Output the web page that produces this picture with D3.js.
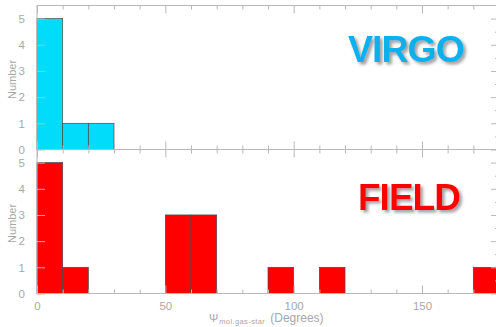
<!DOCTYPE html>
<html>
<head>
<meta charset="utf-8">
<script src="https://cdn.jsdelivr.net/npm/d3@7"></script>
<style>
  html, body { margin: 0; padding: 0; background: #fff; overflow: hidden; }
  svg { display: block; }
  .tick text { fill: #a8a8a8; font-family: "Liberation Sans", Arial, sans-serif; font-size: 11.5px; }
  .tick line { stroke: #b8b8b8; }
</style>
</head>
<body>
<svg id="chart" width="496" height="327"></svg>
<script>
// Histogram bins of misalignment angle (degrees), 10-degree wide
const binStarts = [0, 10, 20, 30, 40, 50, 60, 70, 80, 90, 100, 110, 120, 130, 140, 150, 160, 170];
const virgoCounts = [5, 1, 1, 0, 0, 0, 0, 0, 0, 0, 0, 0, 0, 0, 0, 0, 0, 0];
const fieldCounts = [5, 1, 0, 0, 0, 3, 3, 0, 0, 1, 0, 1, 0, 0, 0, 0, 0, 1];
const xTickLabels = [0, 50, 100, 150];
const yTickLabels = [0, 1, 2, 3, 4, 5];
const binWidth = 10;

const svg = d3.select("#chart");
const x = d3.scaleLinear().domain([0, 180]).range([37, 499]);

const panels = [
  { name: "VIRGO", counts: virgoCounts, fill: "#00dcfa", label: "#0fb0ec",
    y: d3.scaleLinear().domain([0, 5.5]).range([149.5, 5.5]), tx: 348, ty: 62, fs: 37.5 },
  { name: "FIELD", counts: fieldCounts, fill: "#ff0000", label: "#ff0000",
    y: d3.scaleLinear().domain([0, 5.5]).range([293.5, 149.5]), tx: 358, ty: 210, fs: 37 }
];

const defs = svg.append("defs");
defs.append("filter").attr("id", "shadow").attr("x", "-10%").attr("y", "-10%")
  .attr("width", "130%").attr("height", "140%")
  .append("feDropShadow").attr("dx", 2.5).attr("dy", 2.5).attr("stdDeviation", 1.6)
  .attr("flood-color", "#777").attr("flood-opacity", 0.7);

const gray = "#b8b8b8";

panels.forEach((p, i) => {
  const g = svg.append("g");
  const [y0, y1] = p.y.range();

  // bars
  const data = binStarts.map((s, k) => ({ s, v: p.counts[k] })).filter(d => d.v > 0);
  g.selectAll("rect.bar").data(data).join("rect")
    .attr("class", "bar")
    .attr("x", d => x(d.s))
    .attr("width", d => x(d.s + binWidth) - x(d.s))
    .attr("y", d => p.y(d.v))
    .attr("height", d => p.y(0) - p.y(d.v))
    .attr("fill", p.fill)
    .attr("stroke", "#4a4a4a")
    .attr("stroke-width", 0.7);

  // frame
  g.append("rect").attr("x", x(0)).attr("y", y1)
    .attr("width", x(180) - x(0)).attr("height", y0 - y1)
    .attr("fill", "none").attr("stroke", gray).attr("stroke-width", 1);

  // x ticks (bottom, inward) and top (inward)
  const xMinor = d3.range(0, 181, 10).filter(v => v % 50 !== 0);
  const bottomAxis = d3.axisBottom(x).tickValues(xTickLabels).tickSize(-8)
    .tickFormat(i === 1 ? d3.format("d") : () => "");
  const gb = g.append("g").attr("transform", `translate(0,${y0})`).call(bottomAxis);
  gb.select(".domain").remove();
  gb.selectAll(".tick text").attr("dy", "1.2em");
  const gbm = g.append("g").attr("transform", `translate(0,${y0})`)
    .call(d3.axisBottom(x).tickValues(xMinor).tickSize(-4).tickFormat(() => ""));
  gbm.select(".domain").remove();

  const gt = g.append("g").attr("transform", `translate(0,${y1})`)
    .call(d3.axisTop(x).tickValues(xTickLabels).tickSize(-8).tickFormat(() => ""));
  gt.select(".domain").remove();
  const gtm = g.append("g").attr("transform", `translate(0,${y1})`)
    .call(d3.axisTop(x).tickValues(xMinor).tickSize(-4).tickFormat(() => ""));
  gtm.select(".domain").remove();

  // y ticks
  const yMinor = d3.range(0.5, 5.5, 1);
  const gl = g.append("g").attr("transform", `translate(${x(0)},0)`)
    .call(d3.axisLeft(p.y).tickValues(yTickLabels).tickSize(-8).tickPadding(12).tickFormat(d3.format("d")));
  gl.select(".domain").remove();
  const gr = g.append("g").attr("transform", `translate(${x(180)},0)`)
    .call(d3.axisRight(p.y).tickValues(yTickLabels).tickSize(-8).tickFormat(() => ""));
  gr.select(".domain").remove();
  const grm = g.append("g").attr("transform", `translate(${x(180)},0)`)
    .call(d3.axisRight(p.y).tickValues(yMinor).tickSize(-4).tickFormat(() => ""));
  grm.select(".domain").remove();

  // y title
  g.append("text")
    .attr("transform", `translate(16,${(y0 + y1) / 2 + 2}) rotate(-90)`)
    .attr("text-anchor", "middle")
    .attr("fill", "#a8a8a8")
    .style("font-family", "Liberation Sans, Arial, sans-serif")
    .style("font-size", "11px")
    .text("Number");

  // panel label
  g.append("text")
    .attr("x", p.tx).attr("y", p.ty)
    .attr("fill", p.label)
    .attr("filter", "url(#shadow)")
    .style("font-family", "Liberation Sans, Arial, sans-serif")
    .style("font-weight", "bold")
    .style("font-size", p.fs + "px")
    .style("letter-spacing", "-1px")
    .text(p.name);
});

// x axis title
const xt = svg.append("text")
  .attr("x", 209).attr("y", 322)
  .attr("fill", "#a8a8a8")
  .style("font-family", "Liberation Sans, Arial, sans-serif")
  .style("font-size", "12px");
xt.append("tspan").style("font-size", "11px").text("Ψ");
xt.append("tspan").attr("dy", 2).attr("dx", 1).style("font-size", "7.5px")
  .style("letter-spacing", "0.4px").text("mol.gas-star");
xt.append("tspan").attr("dy", -2).attr("dx", 5).text("(Degrees)");
</script>
</body>
</html>
